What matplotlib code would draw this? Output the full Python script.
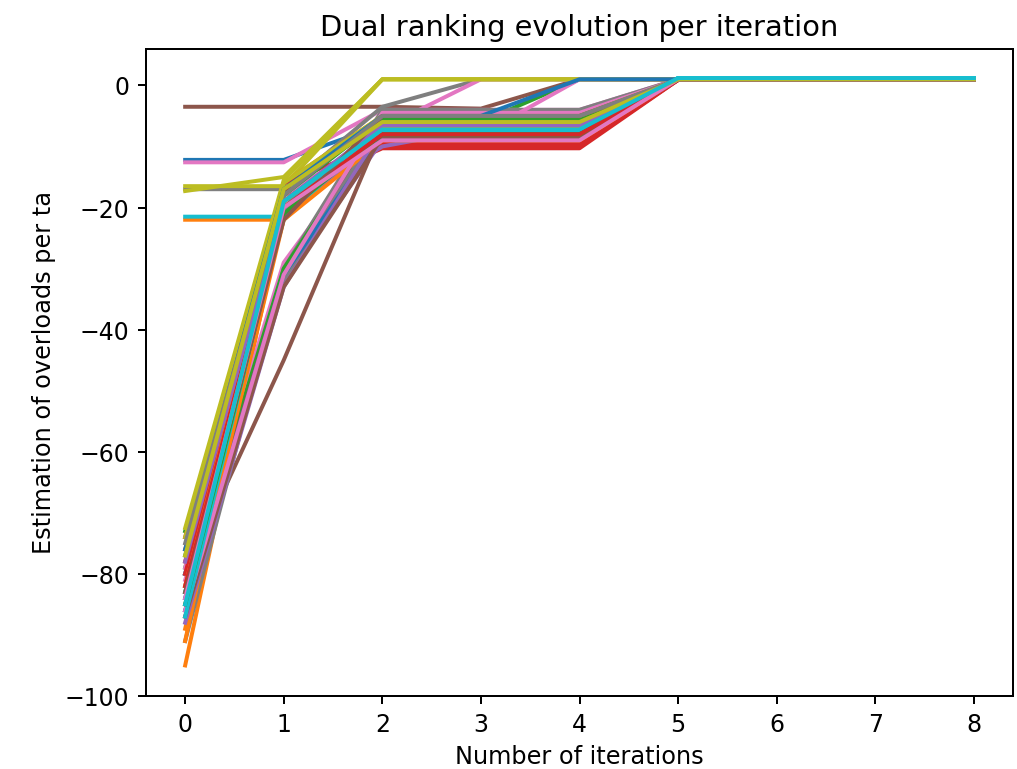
import matplotlib
matplotlib.use("Agg")
import matplotlib.pyplot as plt
import numpy as np

iterations = [0, 1, 2, 3, 4, 5, 6, 7, 8]

# Values per iteration for each ta (50 curves, default colour cycle order)
iter0 = [-12.2, -22.0, -73.0, -76.0, -84.0, -3.5, -12.6, -17.0, -16.5, -21.5,
         -80.0, -95.0, -79.0, -78.0, -86.0, -80.0, -81.0, -91.0, -17.3, -80.0,
         -84.0, -91.0, -83.0, -74.0, -80.0, -85.0, -79.0, -87.0, -72.5, -83.0,
         -86.0, -89.0, -77.0, -80.0, -88.0, -87.0, -86.0, -82.0, -74.0, -87.0,
         -76.0, -82.0, -85.0, -82.0, -78.0, -83.0, -84.0, -75.0, -77.0, -85.0]
iter1 = [-12.2, -22.0, -17.0, -18.0, -30.0, -3.5, -12.6, -17.0, -16.5, -21.5,
         -19.0, -20.0, -20.0, -17.5, -32.0, -45.0, -29.0, -30.0, -15.0, -22.0,
         -21.0, -16.0, -30.0, -16.0, -20.0, -31.0, -18.0, -32.0, -15.5, -21.0,
         -31.0, -22.0, -18.0, -19.0, -33.0, -33.0, -31.0, -21.0, -16.0, -20.0,
         -17.0, -19.0, -21.0, -20.0, -19.0, -22.0, -20.0, -18.0, -17.0, -19.0]
iter2 = [-6.5, -7.5, -6.0, -10.0, -8.0, -3.5, -4.0, -3.5, 1.0, -7.0,
         -7.0, -6.0, -7.0, -10.3, -9.0, -7.0, -7.0, -4.0, 1.0, -7.0,
         -6.0, -5.0, -6.0, -9.5, -10.0, -6.0, -8.0, -6.0, 1.0, -7.5,
         -8.0, -9.0, -5.5, -7.0, -7.0, -8.5, -4.5, -7.0, -5.0, -6.8,
         -5.0, -7.0, -8.0, -8.0, -6.5, -5.0, -9.0, -5.0, -6.0, -7.2]
iter3 = [-6.5, -7.5, -6.0, -10.0, -8.0, -3.8, -4.0, 1.0, 1.0, -7.0,
         -7.0, -6.0, -7.0, -10.3, -8.0, -7.0, 1.0, -4.0, 1.0, -7.0,
         -6.0, -5.0, -6.0, -9.5, -7.0, -6.0, -8.0, -6.0, 1.0, -7.5,
         -8.0, -9.0, -5.5, -7.0, -7.0, -8.5, -4.5, -7.0, -5.0, -6.8,
         -5.0, -7.0, -8.0, -8.0, -6.5, -5.0, -9.0, -5.0, -6.0, -7.2]
iter4 = [-6.5, -7.5, 1.0, -10.0, -8.0, 1.0, -4.0, 1.0, 1.0, -7.0,
         -7.0, -6.0, -7.0, -10.3, -8.0, -7.0, 1.0, -4.0, 1.0, -7.0,
         -6.0, -5.0, -6.0, -9.5, -7.0, -6.0, 1.0, -6.0, 1.0, -7.5,
         -8.0, -9.0, -5.5, -7.0, -7.0, -8.5, -4.5, -7.0, -5.0, -6.8,
         1.0, -7.0, -8.0, -8.0, -6.5, -5.0, -9.0, -5.0, -6.0, -7.2]
# Converged value, constant from iteration 5 to 8
final_values = [1.0, 1.0, 1.0, 0.9, 1.0, 0.9, 1.0, 1.0, 1.0, 1.2,
                1.0, 1.0, 1.0, 0.9, 1.0, 0.9, 1.0, 1.0, 1.0, 1.2,
                1.0, 1.0, 1.0, 0.9, 1.0, 0.9, 1.0, 1.0, 1.0, 1.2,
                1.0, 1.0, 1.0, 0.9, 1.0, 0.9, 1.0, 1.0, 1.0, 1.2,
                1.0, 1.0, 1.0, 0.9, 1.0, 0.9, 1.0, 1.0, 1.0, 1.2]

title = "Dual ranking evolution per iteration"
xlabel = "Number of iterations"
ylabel = "Estimation of overloads per ta"

fig = plt.figure(figsize=(6.4, 4.84), dpi=159)
ax = fig.add_axes([0.1432, 0.0949, 0.9958 - 0.1432, 0.9359 - 0.0949])

for i in range(len(iter0)):
    ys = [iter0[i], iter1[i], iter2[i], iter3[i], iter4[i],
          final_values[i], final_values[i], final_values[i], final_values[i]]
    ax.plot(iterations, ys, linewidth=1.8)

ax.set_title(title, fontsize=13.1)
ax.set_xlabel(xlabel, fontsize=10.9)
ax.set_ylabel(ylabel, fontsize=10.9)
ax.tick_params(labelsize=10.7, length=3.8, width=0.9)
for s in ax.spines.values():
    s.set_linewidth(0.9)
ax.set_ylim(-100, 6.0)

fig.savefig("out.png", dpi=159)
